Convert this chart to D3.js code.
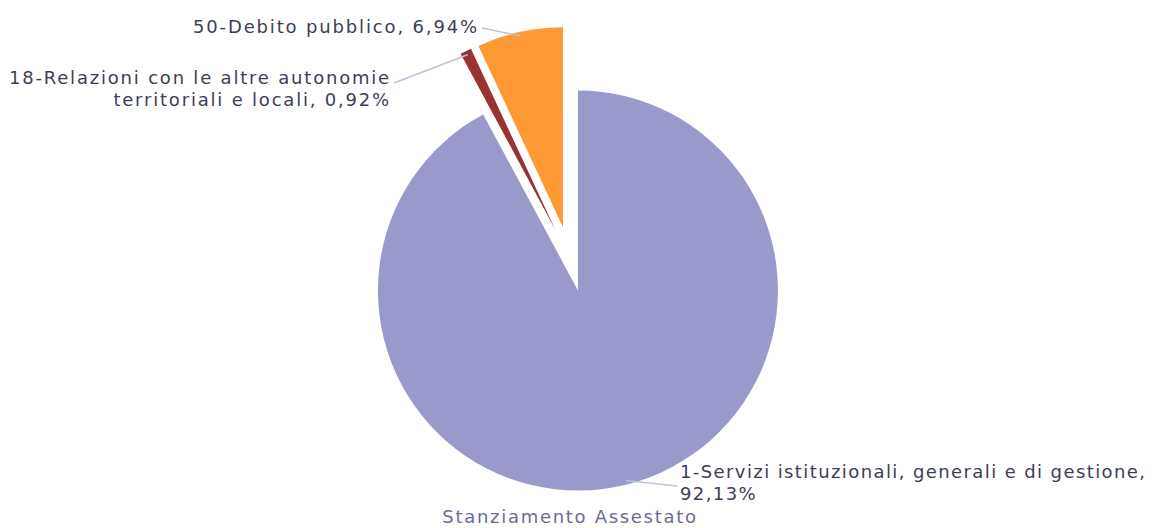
<!DOCTYPE html>
<html lang="it">
<head>
<meta charset="UTF-8">
<title>Stanziamento Assestato</title>
<script src="https://d3js.org/d3.v7.min.js"></script>
<style>
    body { margin: 0; background: #fff; }
    svg { display: block; }
    .lbl { font-family: "DejaVu Sans", sans-serif; font-size: 18px; fill: #3e3e54; }
    .title { font-family: "DejaVu Sans", sans-serif; font-size: 18px; letter-spacing: 1.7px; fill: #6c6c94; }
</style>
</head>
<body>
<svg width="1153" height="528"></svg>
<script>
    // data
    const categories = [
        "1-Servizi istituzionali, generali e di gestione",
        "18-Relazioni con le altre autonomie territoriali e locali",
        "50-Debito pubblico"
    ];
    const values = [92.13, 0.92, 6.94];
    const colors = ["#9999cc", "#993333", "#ff9933"];
    const seriesName = "Stanziamento Assestato";

    // layout
    const cx = 570, cy = 259, radius = 200, explode = 32.5;
    const wrapAfter = [6, 5, 99];           // words on first label line
    const labelPos = [
        { x: 680, y: 478, anchor: "start", lx: 677, ly: 486, ls: 1.4 },
        { x: 391, y: 84, anchor: "end", lx: 394, ly: 83, ls: 1.8 },
        { x: 479, y: 33, anchor: "end", lx: 482, ly: 28, ls: 1.85 }
    ];
    const lineH = 22;

    const svg = d3.select("svg");
    const g = svg.append("g").attr("transform", `translate(${cx},${cy})`);

    const pie = d3.pie().sort(null).value(d => d);
    const arcs = pie(values);
    const arc = d3.arc().innerRadius(0).outerRadius(radius);

    const fmt = v => d3.format(".2f")(v).replace(".", ",") + "%";

    function shift(d) {
        const a = (d.startAngle + d.endAngle) / 2;
        return [Math.sin(a) * explode, -Math.cos(a) * explode];
    }

    // slices
    g.selectAll("path.slice")
        .data(arcs)
        .enter()
        .append("path")
        .attr("class", "slice")
        .attr("d", arc)
        .attr("fill", (d, i) => colors[i])
        .attr("transform", d => `translate(${shift(d)})`);

    // connector lines, from label to slice edge
    arcs.forEach(function (d, i) {
        const a = (d.startAngle + d.endAngle) / 2;
        const s = shift(d);
        const px = cx + s[0] + Math.sin(a) * (radius - 4);
        const py = cy + s[1] - Math.cos(a) * (radius - 4);
        svg.append("line")
            .attr("x1", labelPos[i].lx).attr("y1", labelPos[i].ly)
            .attr("x2", px).attr("y2", py)
            .attr("stroke", "#b7c4d4")
            .attr("stroke-width", 1.5);
    });

    // labels
    arcs.forEach(function (d, i) {
        const words = (categories[i] + ", " + fmt(values[i])).split(" ");
        const lines = [words.slice(0, wrapAfter[i]).join(" ")];
        if (words.length > wrapAfter[i]) lines.push(words.slice(wrapAfter[i]).join(" "));
        const t = svg.append("text")
            .attr("class", "lbl")
            .attr("letter-spacing", labelPos[i].ls)
            .attr("text-anchor", labelPos[i].anchor);
        lines.forEach(function (ln, j) {
            t.append("tspan")
                .attr("x", labelPos[i].x)
                .attr("y", labelPos[i].y + j * lineH)
                .text(ln);
        });
    });

    // series name, centred under the pie
    svg.append("text")
        .attr("class", "title")
        .attr("x", cx)
        .attr("y", 523)
        .attr("text-anchor", "middle")
        .text(seriesName);
</script>
</body>
</html>
